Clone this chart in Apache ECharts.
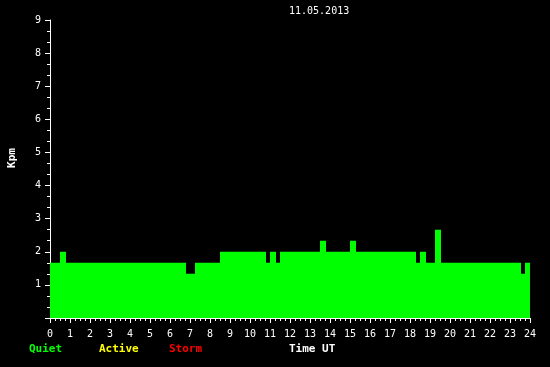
<!DOCTYPE html>
<html>
<head>
<meta charset="utf-8">
<script src="https://cdn.jsdelivr.net/npm/echarts@6/dist/echarts.min.js"></script>
<style>
html,body{margin:0;padding:0;background:#000;}
#c{width:550px;height:367px;}
</style>
</head>
<body>
<div id="c"></div>
<script>
// Start time (hours UT) of each step, and the Kpm value that holds from it
var stepTimes = [0, 0.5, 0.8, 6.8, 7.25, 8.5, 10.8, 11.0, 11.3, 11.5, 13.5, 13.8, 15.0, 15.3, 18.3, 18.5, 18.8, 19.25, 19.55, 23.55, 23.75, 24];
var kpmValues = [1.667, 2.0, 1.667, 1.333, 1.667, 2.0, 1.667, 2.0, 1.667, 2.0, 2.333, 2.0, 2.333, 2.0, 1.667, 2.0, 1.667, 2.667, 1.667, 1.333, 1.667, 1.667];
var titleText = '11.05.2013';
var legendItems = ['Quiet', 'Active', 'Storm'];
var legendColors = ['#00ff00', '#ffff00', '#ff0000'];
var xAxisTitle = 'Time UT';
var yAxisTitle = 'Kpm';

var data = stepTimes.map(function (t, i) { return [t, kpmValues[i]]; });
var mono = 'DejaVu Sans Mono';

var chart = echarts.init(document.getElementById('c'), null, {renderer: 'canvas'});
var graphics = [
  {type: 'text', left: 289, top: 6, style: {text: titleText, fill: '#fff', font: '10px "' + mono + '"'}},
  {type: 'text', x: 12, y: 158, rotation: Math.PI / 2,
   style: {text: yAxisTitle, fill: '#fff', font: 'bold 11px "' + mono + '"', align: 'center', verticalAlign: 'middle'}},
  {type: 'text', x: 289, y: 349, style: {text: xAxisTitle, fill: '#fff', font: 'bold 11px "' + mono + '"', verticalAlign: 'middle'}}
];
var legendX = [29, 99, 169];
legendItems.forEach(function (name, i) {
  graphics.push({type: 'text', x: legendX[i], y: 349,
    style: {text: name, fill: legendColors[i], font: 'bold 11px "' + mono + '"', verticalAlign: 'middle'}});
});

chart.setOption({
  animation: false,
  backgroundColor: '#000',
  grid: {left: 50, right: 20, top: 20, bottom: 49},
  xAxis: {
    type: 'value', min: 0, max: 24, interval: 1,
    axisLine: {show: true, lineStyle: {color: '#fff', width: 1}},
    axisTick: {show: true, length: 5, lineStyle: {color: '#fff'}},
    minorTick: {show: true, splitNumber: 4, length: 3, lineStyle: {color: '#fff'}},
    splitLine: {show: false},
    axisLabel: {color: '#fff', fontFamily: mono, fontSize: 10, margin: 11}
  },
  yAxis: {
    type: 'value', min: 0, max: 9, interval: 1,
    axisLine: {show: true, lineStyle: {color: '#fff', width: 1}},
    axisTick: {show: true, length: 5, lineStyle: {color: '#fff'}},
    minorTick: {show: true, splitNumber: 3, length: 3, lineStyle: {color: '#fff'}},
    splitLine: {show: false},
    axisLabel: {color: '#fff', fontFamily: mono, fontSize: 10, margin: 9,
      formatter: function (v) { return v === 0 ? '' : String(v); }}
  },
  series: [{
    type: 'line',
    step: 'end',
    data: data,
    symbol: 'none',
    lineStyle: {width: 0, color: '#00ff00'},
    areaStyle: {color: '#00ff00', opacity: 1},
    z: 3
  }],
  graphic: graphics
});
</script>
</body>
</html>
